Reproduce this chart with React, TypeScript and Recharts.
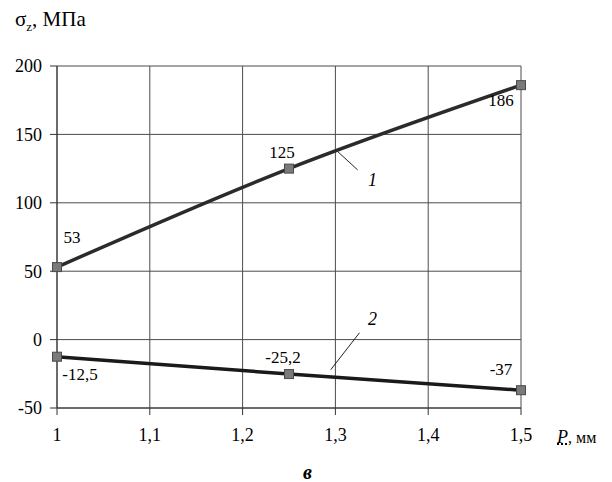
import React from 'react';
import {
  LineChart, Line, XAxis, YAxis, CartesianGrid, LabelList, ReferenceLine, ReferenceDot,
} from 'recharts';

const pitch = [1, 1.25, 1.5];
const stress1 = [53, 125, 186];
const stress2 = [-12.5, -25.2, -37];
const xTicks = [1, 1.1, 1.2, 1.3, 1.4, 1.5];
const yTicks = [-50, 0, 50, 100, 150, 200];

// label offsets (px) for each point, per curve
const offs1 = [[15, -30], [-7, -16], [-20, 15]];
const offs2 = [[23, 18], [-6, -17], [-20, -21]];

const data = pitch.map((p, i) => ({ p, s1: stress1[i], s2: stress2[i] }));

const SERIF = 'Times New Roman, Liberation Serif, Tinos, DejaVu Serif, serif';
const comma = (v: number) => String(v).replace('.', ',');

const SquareDot = (props: any) => {
  const { cx, cy } = props;
  if (cx == null || cy == null) return null;
  return <rect x={cx - 4.5} y={cy - 4.5} width={9} height={9} fill="#7a7a7a" stroke="#4a4a4a" strokeWidth={1} />;
};

const makeLabel = (offs: number[][]) => (props: any) => {
  const { x, y, value, index } = props;
  const [dx, dy] = offs[index] || [0, 0];
  return (
    <text x={x + dx} y={y + dy} textAnchor="middle" dominantBaseline="central"
      style={{ fontFamily: SERIF }} fontSize={17} fill="#000">
      {comma(value)}
    </text>
  );
};

const CurveTag = (text: string) => (props: any) => {
  const { viewBox } = props;
  const cx = viewBox.x + viewBox.width / 2;
  const cy = viewBox.y + viewBox.height / 2;
  return (
    <text x={cx} y={cy} textAnchor="middle" dominantBaseline="central"
      style={{ fontFamily: SERIF }} fontStyle="italic" fontSize={18} fill="#000">{text}</text>
  );
};

export default function App() {
  return (
    <div style={{ position: 'absolute', left: 0, top: 0, width: 612, height: 482, background: '#fff', fontFamily: SERIF }}>
      <div style={{ position: 'absolute', left: 15, top: 7, fontSize: 21, color: '#000' }}>
        σ<sub style={{ fontSize: 13 }}>z</sub>, МПа
      </div>
      <LineChart width={612} height={482} data={data} style={{ fontFamily: SERIF }}
        margin={{ top: 66, right: 91, bottom: 34, left: 0 }}>
        <CartesianGrid stroke="#4a4a4a" strokeWidth={1} />
        <XAxis dataKey="p" type="number" domain={[1, 1.5]} ticks={xTicks}
          tickFormatter={comma} height={40} tickSize={7} tickMargin={13}
          axisLine={{ stroke: '#333' }} tickLine={{ stroke: '#333' }}
          tick={{ fontSize: 18, fill: '#000', style: { fontFamily: SERIF } }} />
        <YAxis type="number" domain={[-50, 200]} ticks={yTicks} width={57}
          tickSize={7} tickMargin={8} axisLine={{ stroke: '#333' }} tickLine={{ stroke: '#333' }}
          tick={{ fontSize: 18, fill: '#000', style: { fontFamily: SERIF } }} />
        <ReferenceLine segment={[{ x: 1.3, y: 139 }, { x: 1.324, y: 124 }]} stroke="#222" strokeWidth={1} />
        <ReferenceLine segment={[{ x: 1.295, y: -22 }, { x: 1.326, y: 5 }]} stroke="#222" strokeWidth={1} />
        <ReferenceDot x={1.34} y={117} r={0} stroke="none" fill="none" label={CurveTag('1')} />
        <ReferenceDot x={1.34} y={15} r={0} stroke="none" fill="none" label={CurveTag('2')} />
        <Line type="monotone" dataKey="s1" stroke="#2b2b2b" strokeWidth={3.5}
          dot={<SquareDot />} activeDot={false} isAnimationActive={false}>
          <LabelList dataKey="s1" content={makeLabel(offs1)} />
        </Line>
        <Line type="monotone" dataKey="s2" stroke="#1a1a1a" strokeWidth={3.5}
          dot={<SquareDot />} activeDot={false} isAnimationActive={false}>
          <LabelList dataKey="s2" content={makeLabel(offs2)} />
        </Line>
      </LineChart>
      <div style={{ position: 'absolute', left: 557, top: 427, fontSize: 16, color: '#000', whiteSpace: 'nowrap' }}>
        <span style={{ fontStyle: 'italic', fontSize: 18, textDecoration: 'underline dotted' }}>P</span>, мм
      </div>
      <div style={{ position: 'absolute', left: 303, top: 461, fontSize: 20, fontStyle: 'italic', fontWeight: 'bold', color: '#000' }}>
        в
      </div>
    </div>
  );
}
